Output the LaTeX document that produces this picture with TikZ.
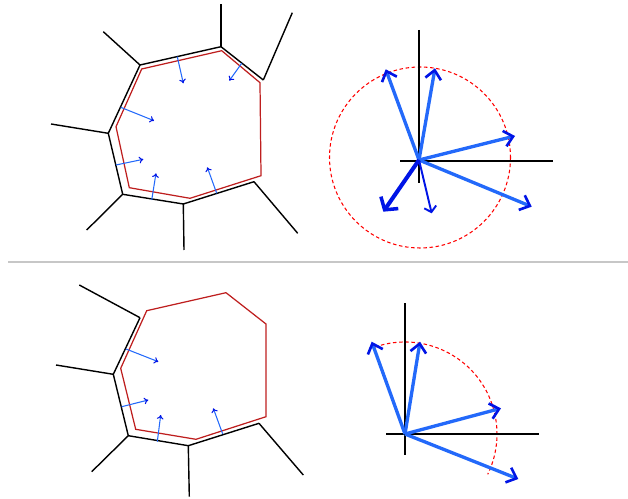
\documentclass[tikz,border=0pt]{standalone}
\usepackage{tikz}
\usetikzlibrary{arrows.meta, positioning}
\definecolor{vblue}{RGB}{35, 105, 250}
\definecolor{hblue}{RGB}{0, 20, 230}
\definecolor{dred}{RGB}{190, 30, 30}

\begin{document}
\begin{tikzpicture}[x=0.02cm, y=-0.02cm,
    canh/.style={black, line width=0.8pt},
    trong/.style={dred, line width=0.7pt},
    phap/.style={vblue, line width=0.6pt, -{To[length=2.4pt, width=3.8pt, color=hblue]}},
    vec/.style={vblue, line width=1.9pt, -{Straight Barb[length=5pt, width=9pt, line width=1.5pt, color=hblue]}},
    vecb/.style={hblue, line width=1.1pt, -{Straight Barb[length=3pt, width=7pt, line width=1.1pt]}},
    vecc/.style={hblue, line width=2.3pt, -{Straight Barb[length=5pt, width=12pt, line width=2pt]}},
    truc/.style={black, line width=1.1pt},
    tron/.style={red, line width=0.6pt, dash pattern=on 2pt off 1.5pt}]

    \useasboundingbox (0,0) rectangle (628,499);

    % duong ke ngang chia hai nua
    \draw[black!22, line width=0.7pt] (8,262) -- (628,262);

    % ===== tren trai: da giac va cac canh ngoai =====
    \coordinate (a1) at (140,65);
    \coordinate (a2) at (221,46.7);
    \coordinate (a3) at (263.3,80);
    \coordinate (a4) at (254,181.7);
    \coordinate (a5) at (183.3,204);
    \coordinate (a6) at (122.7,194.3);
    \coordinate (a7) at (108.3,133.3);
    \draw[canh] (a3) -- (a2) -- (a1) -- (a7) -- (a6) -- (a5) -- (a4);
    \draw[canh] (a1) -- (103.3,31.7);
    \draw[canh] (a2) -- (221,4);
    \draw[canh] (a3) -- (292.3,12.7);
    \draw[canh] (a4) -- (297.7,233.3);
    \draw[canh] (a5) -- (184,250);
    \draw[canh] (a6) -- (86.7,230);
    \draw[canh] (a7) -- (51,124);
    % da giac do ben trong
    \draw[trong] (141.7,69) -- (221.7,50.7) -- (260,82.7) -- (261,175.7)
        -- (190,198.3) -- (129.3,187.7) -- (116,126.7) -- cycle;
    % phap tuyen
    \draw[phap] (177.3,56.7) -- (183.3,83.3);
    \draw[phap] (241.7,63.3) -- (229.3,80.7);
    \draw[phap] (120.7,107.3) -- (154,120.7);
    \draw[phap] (116,165) -- (143.3,159.3);
    \draw[phap] (151.7,200) -- (156,173.3);
    \draw[phap] (216.7,193.3) -- (207.3,167.3);

    % ===== tren phai: cac vecto va vong tron =====
    \coordinate (o1) at (419,160);
    \draw[tron] (420,157.5) circle (90.5);
    \draw[truc] (400,161) -- (553.3,161);
    \draw[truc] (419,30) -- (419,183.3);
    \draw[vec] (o1) -- (385.7,69.3);
    \draw[vec] (o1) -- (435,68.3);
    \draw[vec] (o1) -- (515,136);
    \draw[vec] (o1) -- (531.7,206.7);
    \draw[vecb] (o1) -- (431.7,213.3);
    \draw[vecc] (o1) -- (383.3,211.7);

    % ===== duoi trai =====
    \coordinate (b1) at (140,317.7);
    \coordinate (b2) at (113.3,374.3);
    \coordinate (b3) at (128.3,435.7);
    \coordinate (b4) at (188.3,445.7);
    \coordinate (b5) at (259,423.3);
    \draw[canh] (b1) -- (b2) -- (b3) -- (b4) -- (b5);
    \draw[canh] (b1) -- (79.3,285);
    \draw[canh] (b2) -- (56,365);
    \draw[canh] (b3) -- (91.7,471.7);
    \draw[canh] (b4) -- (189.3,496.7);
    \draw[canh] (b5) -- (303.3,475);
    \draw[trong] (146.7,310.7) -- (226,292.7) -- (266,324) -- (266,416.7)
        -- (196,439.3) -- (135.7,429.3) -- (120.7,368.3) -- cycle;
    \draw[phap] (126,349) -- (158.3,361.7);
    \draw[phap] (121.7,406.7) -- (148.3,400);
    \draw[phap] (157.3,441.7) -- (160.7,415);
    \draw[phap] (222.7,434) -- (213.3,408.3);

    % ===== duoi phai: cung tron =====
    \coordinate (o2) at (405,434);
    \draw[tron] (o2) ++(251:92) arc[start angle=251, end angle=386, radius=92];
    \draw[truc] (386,434) -- (539.3,434);
    \draw[truc] (405,303.3) -- (405,455);
    \draw[vec] (o2) -- (371.7,341.7);
    \draw[vec] (o2) -- (420,341.7);
    \draw[vec] (o2) -- (501,408.3);
    \draw[vec] (o2) -- (518.3,479);
\end{tikzpicture}
\end{document}
